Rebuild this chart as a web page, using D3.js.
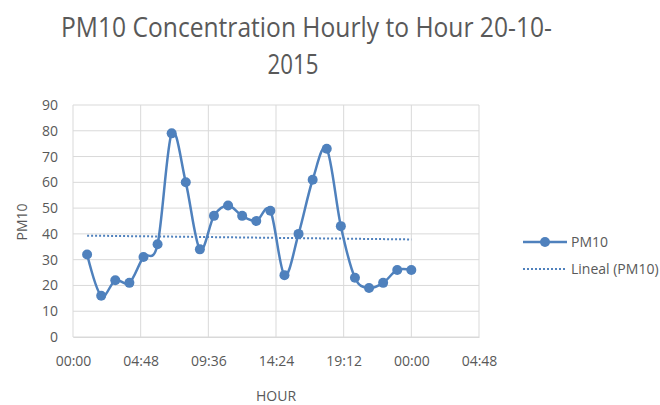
<!DOCTYPE html>
<html>
<head>
<meta charset="utf-8">
<script src="https://cdn.jsdelivr.net/npm/d3@7"></script>
<style>
  body { margin: 0; background: #fff; }
  text { font-family: "Open Sans", "Liberation Sans", sans-serif; fill: #595959; }
</style>
</head>
<body>
<div id="chart-container"></div>
<script>
// hour of the day (20-10-2015) and PM10 reading
const hours = [1, 2, 3, 4, 5, 6, 7, 8, 9, 10, 11, 12, 13, 14, 15, 16, 17, 18, 19, 20, 21, 22, 23, 24];
const pm10 = [32, 16, 22, 21, 31, 36, 79, 60, 34, 47, 51, 47, 45, 49, 24, 40, 61, 73, 43, 23, 19, 21, 26, 26];
const yTicks = [0, 10, 20, 30, 40, 50, 60, 70, 80, 90];
const xTickMinutes = [0, 288, 576, 864, 1152, 1440, 1728];

const day = new Date(2015, 9, 20, 0, 0);
const toDate = h => new Date(day.getTime() + h * 3600 * 1000);
const data = hours.map((h, i) => ({ date: toDate(h), value: pm10[i] }));

const W = 660, H = 405;
const margin = { top: 105, right: 181, bottom: 68, left: 73 };
const width = W - margin.left - margin.right;
const height = H - margin.top - margin.bottom;
const color = "#4f81bd";

const root = d3.select("#chart-container")
    .append("svg")
    .attr("width", W)
    .attr("height", H);

// title, two lines like the excel wrap
root.append("text")
    .attr("x", 61)
    .attr("y", 37)
    .attr("textLength", 491)
    .attr("lengthAdjust", "spacingAndGlyphs")
    .style("font-size", "27px")
    .text("PM10 Concentration Hourly to Hour 20-10-");
root.append("text")
    .attr("x", 293)
    .attr("y", 74)
    .attr("text-anchor", "middle")
    .attr("textLength", 51)
    .attr("lengthAdjust", "spacingAndGlyphs")
    .style("font-size", "27px")
    .text("2015");

const svg = root.append("g")
    .attr("transform", `translate(${margin.left},${margin.top})`);

const x = d3.scaleTime()
    .domain([day, new Date(day.getTime() + 1728 * 60 * 1000)])
    .range([0, width]);
const xTickDates = xTickMinutes.map(m => new Date(day.getTime() + m * 60 * 1000));

const y = d3.scaleLinear()
    .domain([0, 90])
    .range([height, 0]);

// gridlines
svg.selectAll(".hgrid")
    .data(yTicks)
    .join("line")
    .attr("x1", 0).attr("x2", width)
    .attr("y1", d => y(d)).attr("y2", d => y(d))
    .attr("stroke", "#d9d9d9")
    .attr("stroke-width", 1);
svg.selectAll(".vgrid")
    .data(xTickDates)
    .join("line")
    .attr("x1", d => x(d)).attr("x2", d => x(d))
    .attr("y1", 0).attr("y2", height)
    .attr("stroke", "#d9d9d9")
    .attr("stroke-width", 1);

// axes
svg.append("g")
    .attr("transform", `translate(0,${height})`)
    .call(d3.axisBottom(x).tickValues(xTickDates).tickFormat(d3.timeFormat("%H:%M")).tickSize(0).tickPadding(19))
    .call(g => g.select(".domain").attr("stroke", "#d9d9d9"))
    .call(g => g.selectAll("text").style("font-size", "14px").attr("fill", "#595959"));

svg.append("g")
    .call(d3.axisLeft(y).tickValues(yTicks).tickSize(0).tickPadding(15))
    .call(g => g.select(".domain").remove())
    .call(g => g.selectAll("text").style("font-size", "14px").attr("fill", "#595959"));

// linear trendline (least squares over the points)
const xs = hours, n = xs.length;
const mx = d3.mean(xs), my = d3.mean(pm10);
const slope = d3.sum(xs, (h, i) => (h - mx) * (pm10[i] - my)) / d3.sum(xs, h => (h - mx) * (h - mx));
const icpt = my - slope * mx;
const trend = [hours[0], hours[n - 1]].map(h => ({ date: toDate(h), value: icpt + slope * h }));

svg.append("path")
    .datum(trend)
    .attr("fill", "none")
    .attr("stroke", color)
    .attr("stroke-width", 2)
    .attr("stroke-dasharray", "2,2")
    .attr("d", d3.line().x(d => x(d.date)).y(d => y(d.value)));

// smoothed series
const line = d3.line()
    .x(d => x(d.date))
    .y(d => y(d.value))
    .curve(d3.curveCardinal.tension(0));

svg.append("path")
    .datum(data)
    .attr("fill", "none")
    .attr("stroke", color)
    .attr("stroke-width", 2.5)
    .attr("d", line);

svg.selectAll(".dot")
    .data(data)
    .join("circle")
    .attr("cx", d => x(d.date))
    .attr("cy", d => y(d.value))
    .attr("r", 5)
    .attr("fill", color);

// axis titles
root.append("text")
    .attr("transform", "translate(27,222) rotate(-90)")
    .attr("text-anchor", "middle")
    .style("font-size", "14px")
    .text("PM10");
root.append("text")
    .attr("x", 276)
    .attr("y", 401)
    .attr("text-anchor", "middle")
    .style("font-size", "14px")
    .text("HOUR");

// legend
const legend = root.append("g");
legend.append("line")
    .attr("x1", 523).attr("x2", 567)
    .attr("y1", 242).attr("y2", 242)
    .attr("stroke", color).attr("stroke-width", 2.5);
legend.append("circle")
    .attr("cx", 545).attr("cy", 242).attr("r", 5)
    .attr("fill", color);
legend.append("text")
    .attr("x", 571).attr("y", 247)
    .style("font-size", "14px")
    .text("PM10");
legend.append("line")
    .attr("x1", 523).attr("x2", 565)
    .attr("y1", 269).attr("y2", 269)
    .attr("stroke", color).attr("stroke-width", 2)
    .attr("stroke-dasharray", "2,2");
legend.append("text")
    .attr("x", 571).attr("y", 274)
    .style("font-size", "14px")
    .text("Lineal (PM10)");
</script>
</body>
</html>
